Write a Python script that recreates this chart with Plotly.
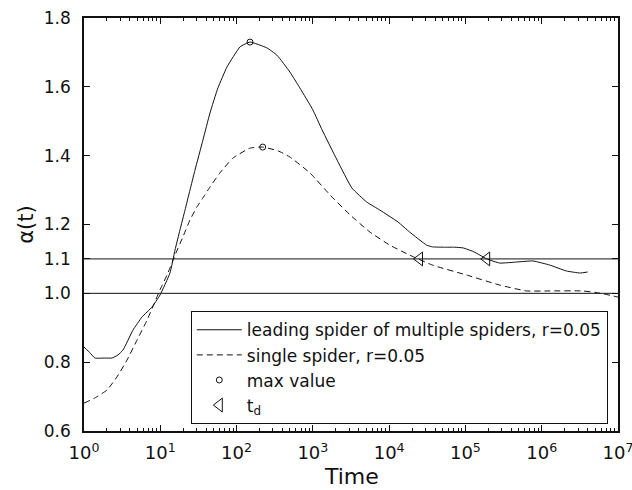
import plotly.graph_objects as go

# ---- data ----
t_lead = [1, 1.2, 1.39, 1.88, 2.33, 2.79, 3.24, 4.38, 5.75, 7.78,
          9.91, 13.4, 15.6, 18.1, 21.1, 24.5, 28.5, 36.2, 44.8, 57,
          75, 111, 150, 250, 338, 500, 674, 1000, 1320, 2080,
          3250, 5100, 7550, 13100, 18600, 31000, 37000, 53000, 72000, 93000,
          125000, 155000, 190000, 282000, 473000, 767000, 1.28e6, 2.1e6, 3.2e6, 4.0e6]
alpha_lead = [0.844, 0.827, 0.812, 0.812, 0.812, 0.821, 0.835, 0.893, 0.931, 0.960,
              0.995, 1.059, 1.126, 1.184, 1.242, 1.300, 1.358, 1.445, 1.524, 1.597,
              1.658, 1.716, 1.730, 1.713, 1.692, 1.643, 1.597, 1.533, 1.475, 1.387,
              1.306, 1.265, 1.242, 1.207, 1.178, 1.140, 1.135, 1.134, 1.134, 1.132,
              1.122, 1.111, 1.100, 1.088, 1.091, 1.094, 1.082, 1.065, 1.059, 1.062]

t_single = [1, 1.39, 2.0, 2.7, 3.66, 4.95, 6.7, 8.5, 9.91, 12.6,
            15.6, 19.8, 24.5, 30.2, 36.2, 44.8, 60.5, 89.6, 150, 220,
            350, 500, 915, 1680, 3070, 5600, 10200, 18600, 37000, 104000,
            282000, 630000, 1.28e6, 3.4e6, 5.7e6, 1e7]
alpha_single = [0.681, 0.696, 0.719, 0.757, 0.806, 0.864, 0.922, 0.975, 1.010, 1.059,
                1.111, 1.164, 1.213, 1.251, 1.277, 1.309, 1.350, 1.393, 1.422, 1.425,
                1.414, 1.396, 1.350, 1.286, 1.228, 1.178, 1.140, 1.111, 1.082, 1.053,
                1.024, 1.007, 1.007, 1.007, 1.001, 0.989]

t_max = [150, 220]
alpha_max = [1.730, 1.425]
t_d = [2.5e4, 1.9e5]
alpha_td = [1.1, 1.1]

ref_levels = [1.0, 1.1]

x_tickvals = [1, 10, 100, 1e3, 1e4, 1e5, 1e6, 1e7]
x_ticktext = ["10<sup>0</sup>", "10<sup>1</sup>", "10<sup>2</sup>", "10<sup>3</sup>",
              "10<sup>4</sup>", "10<sup>5</sup>", "10<sup>6</sup>", "10<sup>7</sup>"]
y_tickvals = [0.6, 0.8, 1.0, 1.1, 1.2, 1.4, 1.6, 1.8]
y_ticktext = ["0.6", "0.8", "1.0", "1.1", "1.2", "1.4", "1.6", "1.8"]

names = ["leading spider of multiple spiders, r=0.05", "single spider, r=0.05",
         "max value", "t<sub>d</sub>"]
x_title = "Time"
y_title = "α(t)"

FONT = "DejaVu Sans"
INK = "#111111"

minor_x = [m * 10 ** e for e in range(7) for m in range(2, 10)]

fig = go.Figure()
fig.add_trace(go.Scatter(x=t_lead, y=alpha_lead, mode="lines", name=names[0],
                         line=dict(color=INK, width=1, shape="spline", smoothing=0.4)))
fig.add_trace(go.Scatter(x=t_single, y=alpha_single, mode="lines", name=names[1],
                         line=dict(color=INK, width=1, dash="6px,4px", shape="spline",
                                   smoothing=0.4)))
fig.add_trace(go.Scatter(x=t_max, y=alpha_max, mode="markers", name=names[2],
                         marker=dict(symbol="circle-open", size=6, color=INK,
                                     line=dict(width=1, color=INK))))
fig.add_trace(go.Scatter(x=t_d, y=alpha_td, mode="markers", name=names[3],
                         marker=dict(symbol="triangle-left-open", size=12, color=INK,
                                     line=dict(width=1, color=INK))))

for lv in ref_levels:
    fig.add_shape(type="line", xref="paper", yref="y", x0=0, x1=1, y0=lv, y1=lv,
                  line=dict(color=INK, width=1), layer="below")

fig.add_annotation(text=x_title, xref="paper", yref="paper", x=0.5, y=0,
                   xanchor="center", yanchor="middle", yshift=-45, showarrow=False,
                   font=dict(family=FONT, size=22, color=INK))

fig.update_layout(
    width=632, height=490,
    margin=dict(l=84, r=14, t=18, b=59),
    paper_bgcolor="white", plot_bgcolor="white",
    font=dict(family=FONT, color=INK, size=16),
    showlegend=True,
    legend=dict(x=0.2, y=0.29, xanchor="left", yanchor="top",
                bordercolor=INK, borderwidth=1, bgcolor="white",
                font=dict(family=FONT, size=17, color=INK),
                itemwidth=45, tracegroupgap=0),
    xaxis=dict(type="log", range=[0, 7.00001], tickmode="array", tickvals=x_tickvals,
               ticktext=x_ticktext, ticks="inside", ticklen=6, tickwidth=1,
               tickcolor=INK, showline=True, linecolor=INK, linewidth=1.5,
               mirror="ticks", showgrid=False, zeroline=False, automargin=False,
               ticklabeloverflow="allow",
               minor=dict(tickmode="array", tickvals=minor_x, ticks="inside",
                          ticklen=3, tickwidth=1, tickcolor=INK, showgrid=False),
               ticklabelstandoff=5, tickfont=dict(size=18)),
    yaxis=dict(range=[0.6, 1.8], tickmode="array", tickvals=y_tickvals,
               ticktext=y_ticktext, ticks="inside", ticklen=6, tickwidth=1,
               tickcolor=INK, showline=True, linecolor=INK, linewidth=1.5,
               mirror="ticks", showgrid=False, zeroline=False, automargin=False,
               ticklabelstandoff=8, tickfont=dict(size=17),
               title=dict(text=y_title, font=dict(size=21), standoff=4)),
)

fig.write_html("out.html")
